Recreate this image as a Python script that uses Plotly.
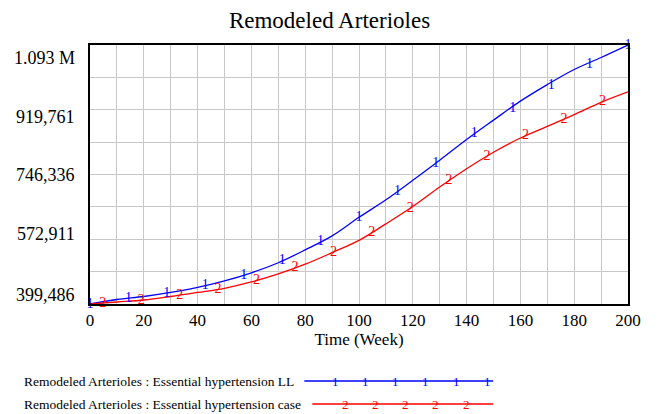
import plotly.graph_objects as go

# ---- data ----
weeks = [0, 10, 20, 30, 40, 50, 60, 70, 80, 90, 100, 110, 120, 130, 140, 150, 160, 170, 180, 190, 200]
ll_values = [399486, 411560, 419610, 430350, 443770, 461210, 483000, 510000, 544400, 581970, 631620,
             678580, 730910, 784580, 840000, 891930, 942920, 987190, 1027450, 1059650, 1093186]
case_values = [399486, 404850, 410220, 419610, 430350, 441620, 458530, 479990, 506030, 537160, 569900,
               614170, 660600, 712660, 761770, 806050, 844160, 875290, 906690, 939700, 967600]

ll_marker_weeks = [0, 14.29, 28.57, 42.86, 57.14, 71.43, 85.71, 100, 114.29, 128.57, 142.86, 157.14, 171.43, 185.71, 200]
ll_marker_values = [399486, 415000, 428800, 448760, 476050, 514900, 565850, 631620, 701030, 776900, 854850,
                    922000, 984000, 1042000, 1093186]
case_marker_weeks = [4.76, 19.05, 33.33, 47.62, 61.9, 76.19, 90.48, 104.76, 119.05, 133.33, 147.62, 161.9, 176.19, 190.48]
case_marker_values = [402000, 409700, 423190, 438940, 462610, 496110, 538700, 590970, 656200, 729010, 795500,
                      850100, 894700, 941300]

x_tick_values = [0, 20, 40, 60, 80, 100, 120, 140, 160, 180, 200]
y_tick_values = [399486, 572911, 746336, 919761, 1093186]
y_tick_labels = ["399,486", "572,911", "746,336", "919,761", "1.093 M"]

series_names = ["Remodeled Arterioles : Essential hypertension LL",
                "Remodeled Arterioles : Essential hypertension case"]

BLUE = "#0000ff"
RED = "#ff0000"
FONT = "Liberation Serif"
GRID = "#c8c8c8"

W, H = 659, 414
L, R, T, B = 89.5, 628, 45, 304


def px_x(px):
    return (px - L) / (R - L)


def px_y(py):
    return (B - py) / (B - T)


fig = go.Figure()
fig.add_trace(go.Scatter(x=weeks, y=ll_values, mode="lines", line=dict(color=BLUE, width=1.3, shape="spline"),
                         hoverinfo="skip", showlegend=False))
fig.add_trace(go.Scatter(x=weeks, y=case_values, mode="lines", line=dict(color=RED, width=1.3, shape="spline"),
                         hoverinfo="skip", showlegend=False))
fig.add_trace(go.Scatter(x=ll_marker_weeks, y=ll_marker_values, mode="text", text=["1"] * len(ll_marker_weeks),
                         textposition="middle center", textfont=dict(family=FONT, size=14, color=BLUE),
                         cliponaxis=False, hoverinfo="skip", showlegend=False))
fig.add_trace(go.Scatter(x=case_marker_weeks, y=case_marker_values, mode="text", text=["2"] * len(case_marker_weeks),
                         textposition="middle center", textfont=dict(family=FONT, size=14, color=RED),
                         cliponaxis=False, hoverinfo="skip", showlegend=False))

annotations = []
# y tick labels (Vensim spreads them slightly inside the axis)
label_py = [295, 234, 175, 117, 58]
for lab, py in zip(y_tick_labels, label_py):
    annotations.append(dict(text=lab, xref="paper", yref="paper", x=px_x(76), y=px_y(py),
                            xanchor="right", yanchor="middle", showarrow=False,
                            font=dict(family=FONT, size=18, color="black")))

# custom legend
shapes = []
legend_rows = [(381, 304, BLUE, "1", [335, 365, 395, 425, 456, 487]),
               (404, 312, RED, "2", [345, 375, 405, 435, 466])]
for name, (py, x0, col, sym, mx) in zip(series_names, legend_rows):
    annotations.append(dict(text=name, xref="paper", yref="paper", x=px_x(21), y=px_y(py),
                            xanchor="left", yanchor="middle", showarrow=False,
                            font=dict(family=FONT, size=13.5, color="black")))
    shapes.append(dict(type="line", xref="paper", yref="paper", x0=px_x(x0), x1=px_x(493),
                       y0=px_y(py), y1=px_y(py), line=dict(color=col, width=1.3)))
    for m in mx:
        annotations.append(dict(text=sym, xref="paper", yref="paper", x=px_x(m), y=px_y(py),
                                xanchor="center", yanchor="middle", showarrow=False,
                                font=dict(family=FONT, size=13, color=col)))

fig.update_layout(
    width=W, height=H,
    margin=dict(l=L, r=W - R, t=T, b=H - B, pad=0),
    paper_bgcolor="white", plot_bgcolor="white",
    title=dict(text="Remodeled Arterioles", x=0.5, xref="container", xanchor="center",
               y=1 - 20 / H, yref="container", yanchor="middle",
               font=dict(family=FONT, size=23, color="black")),
    xaxis=dict(range=[0, 200], tickvals=x_tick_values, showgrid=True, gridcolor=GRID, gridwidth=1,
               minor=dict(dtick=10, tick0=0, showgrid=True, gridcolor=GRID, gridwidth=1),
               showline=True, mirror=True, linecolor="black", linewidth=2, zeroline=False,
               ticks="", tickfont=dict(family=FONT, size=17, color="black"),
               title=dict(text="Time (Week)", font=dict(family=FONT, size=17, color="black"), standoff=4)),
    yaxis=dict(range=[y_tick_values[0], y_tick_values[-1]], tickvals=y_tick_values, showticklabels=False,
               showgrid=True, gridcolor=GRID, gridwidth=1,
               minor=dict(dtick=86712.5, tick0=399486, showgrid=True, gridcolor=GRID, gridwidth=1),
               showline=True, mirror=True, linecolor="black", linewidth=2, zeroline=False, ticks=""),
    annotations=annotations,
    shapes=shapes,
    showlegend=False,
)

fig.write_html("out.html")
